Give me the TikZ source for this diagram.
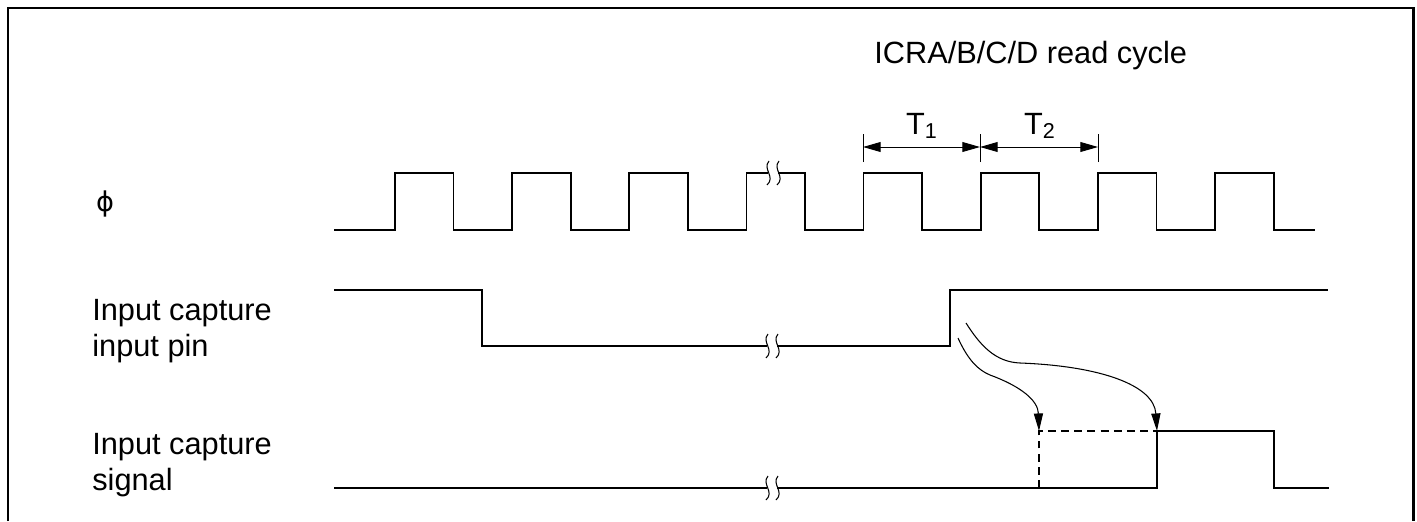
\documentclass[tikz,border=0pt]{standalone}
\usepackage{fontspec}
\setmainfont{Liberation Sans}
\newfontfamily\symfont{DejaVu Sans}
\usetikzlibrary{arrows.meta}
\tikzset{
  frame/.style={line width=1.7pt},
  sig/.style={line width=1pt, line join=miter},
  dim/.style={line width=0.5pt},
  dimarr/.style={line width=0.5pt, {Triangle[length=10pt,width=5.6pt]}-{Triangle[length=10pt,width=5.6pt]}},
  cause/.style={line width=0.6pt, -{Triangle[length=10pt,width=5.2pt]}},
  dashsig/.style={line width=1pt, dash pattern=on 4.5pt off 3pt},
  lbl/.style={font=\fontsize{17.5}{20.4}\selectfont, inner sep=0pt, align=left},
  brk/.pic={
    \fill[white] (-5,-9) rectangle (5,9);
    \draw[line width=0.6pt] (-4,-12) .. controls (-11,-4) and (3,4) .. (-6,12);
    \draw[line width=0.6pt] (6,-12) .. controls (-1,-4) and (13,4) .. (4,12);
  }
}
\begin{document}
\begin{tikzpicture}[x=0.02cm, y=-0.02cm]
  \useasboundingbox (0,0) rectangle (1417,521);
  \draw[frame] (8,521) -- (8,8) -- (1413,8) -- (1413,521);
  % labels
  \node[lbl, anchor=base west] (lbltitle) at (874,63) {ICRA/B/C/D read cycle};
  \node[inner sep=0pt, font=\symfont\fontsize{15.5}{18}\selectfont] (lblclk) at (105,204) {ϕ};
  \node[lbl, anchor=base west] (lblpin) at (92,356) {Input capture\\input pin};
  \node[lbl, anchor=base west] (lblsig) at (92,490) {Input capture\\signal};
  % clock
  \draw[sig] (334,230)
    \foreach \k in {0,...,7} {
      -- ({395+117.15*\k},230) -- ({395+117.15*\k},173)
      -- ({453.6+117.15*\k},173) -- ({453.6+117.15*\k},230)
    } -- (1315,230);
  \pic at (773,173) {brk};
  % T1 / T2
  \coordinate (ta) at (863,147);
  \coordinate (tb) at (980,147);
  \coordinate (tc) at (1098,147);
  \foreach \t in {ta,tb,tc}
    \draw[dim] ([yshift=-15*0.02cm]\t) -- ([yshift=13*0.02cm]\t);
  \draw[dimarr] (ta) -- (tb);
  \draw[dimarr] (tb) -- (tc);
  \node[lbl, anchor=south] (lblTone) at (922,139) {T\textsubscript{1}};
  \node[lbl, anchor=south] (lblTtwo) at (1040,139) {T\textsubscript{2}};
  % input pin
  \draw[sig] (334,290) -- (482,290) -- (482,346) -- (950,346) -- (950,290) -- (1328,290);
  \pic at (772,346) {brk};
  % capture signal
  \draw[sig] (334,488) -- (1157,488) -- (1157,431) -- (1274,431) -- (1274,488) -- (1329,488);
  \pic at (772,488) {brk};
  \coordinate (early) at (1039,431);
  \coordinate (late) at (1157,431);
  \draw[dashsig] (1039,488) -- (early) -- (late);
  % causality arrows
  \coordinate (srcA) at (958,338);
  \coordinate (srcB) at (966,323);
  \draw[cause] (srcA) .. controls (968,360) and (978,370) .. (990,375)
    .. controls (1020,386) and (1038,400) .. (early);
  \draw[cause] (srcB) .. controls (980,345) and (995,362) .. (1020,363)
    .. controls (1100,366) and (1154,385) .. (late);
\end{tikzpicture}
\end{document}
